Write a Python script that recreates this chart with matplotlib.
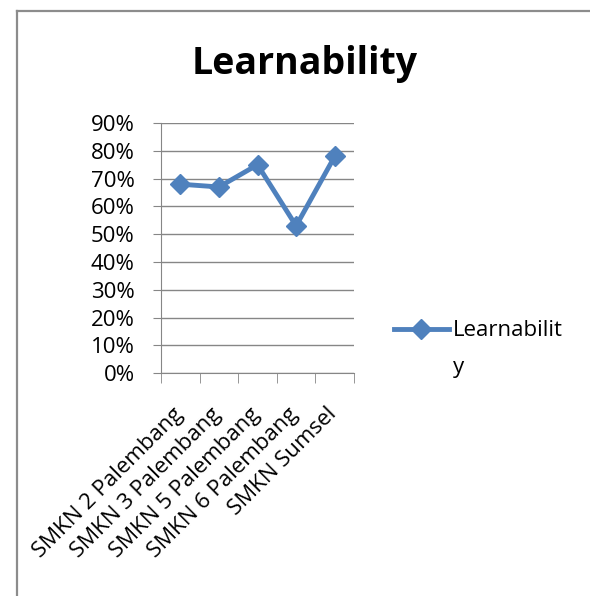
import matplotlib
matplotlib.use("Agg")
import matplotlib.pyplot as plt
import matplotlib.transforms as mtransforms
from matplotlib.lines import Line2D
from matplotlib.ticker import FuncFormatter

# data
schools = ["SMKN 2 Palembang", "SMKN 3 Palembang", "SMKN 5 Palembang",
           "SMKN 6 Palembang", "SMKN Sumsel"]
learnability = [0.68, 0.67, 0.75, 0.53, 0.78]
y_ticks = [0.0, 0.1, 0.2, 0.3, 0.4, 0.5, 0.6, 0.7, 0.8, 0.9]

plt.rcParams['font.family'] = ['Open Sans', 'DejaVu Sans']

blue = '#4F81BD'
grey = '#868686'
fs = 16

fig = plt.figure(figsize=(5.9, 5.96), dpi=100)
ax = fig.add_axes([0.273, 0.374, 0.327, 0.4195])

x = list(range(len(schools)))
ax.plot(x, learnability, color=blue, linewidth=3.5, marker='D', markersize=10,
        label='Learnabilit')

ax.set_xlim(-0.5, len(schools) - 0.5)
ax.set_ylim(0, 0.9)
ax.set_yticks(y_ticks)
ax.yaxis.set_major_formatter(FuncFormatter(lambda v, p: f'{v*100:.0f}%'))
ax.grid(axis='y', color=grey, linewidth=1)
ax.set_axisbelow(True)

ax.set_xticks(x)
ax.set_xticklabels(schools, rotation=45, ha='right', va='top', rotation_mode='anchor')
ax.set_xticks([i - 0.5 for i in range(len(schools) + 1)], minor=True)
ax.tick_params(axis='x', which='major', length=0, pad=22, labelsize=fs)
ax.tick_params(axis='x', which='minor', length=7, color=grey, direction='out')
ax.tick_params(axis='y', length=6, color=grey, labelsize=fs, pad=13)

# nudge the rotated labels slightly left, like the original
shift = mtransforms.ScaledTranslation(-6 / 72, 0, fig.dpi_scale_trans)
for lab in ax.get_xticklabels():
    lab.set_transform(lab.get_transform() + shift)

for s in ['top', 'right']:
    ax.spines[s].set_visible(False)
for s in ['left', 'bottom']:
    ax.spines[s].set_color(grey)

fig.text(0.517, 0.893, 'Learnability', ha='center', va='center',
         fontsize=27, fontweight='bold')

leg = fig.legend(loc='center left', bbox_to_anchor=(0.634, 0.445), frameon=False,
                 fontsize=16, handlelength=2.45, handletextpad=0.2)
fig.text(0.768, 0.383, 'y', fontsize=16, ha='left', va='center')

# outer chart frame (left and top edges visible)
fig.add_artist(Line2D([0.028, 0.028], [0.0, 0.982], color='#8c8c8c', linewidth=1.6))
fig.add_artist(Line2D([0.028, 1.0], [0.982, 0.982], color='#8c8c8c', linewidth=1.6))

fig.savefig('out.png', dpi=100)
